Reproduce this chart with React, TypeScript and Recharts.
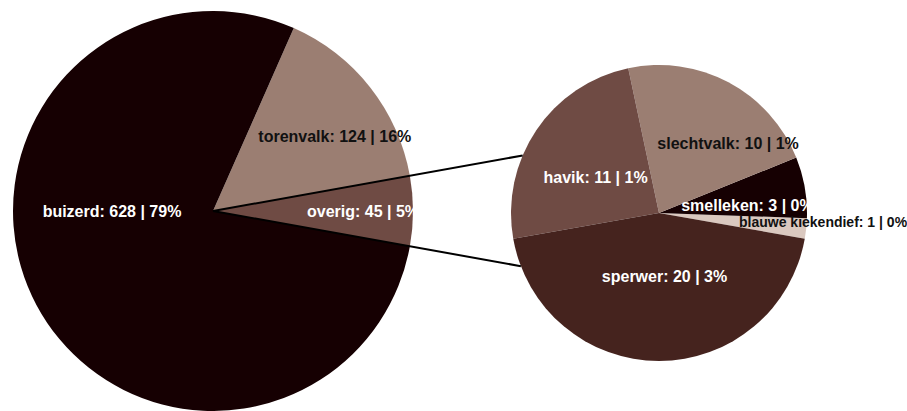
import React from 'react';
import { PieChart, Pie, Cell } from 'recharts';

// left pie: overig is exploded into the right pie
const mainNames = ['overig', 'torenvalk', 'buizerd'];
const mainValues = [45, 124, 628];
const mainPct = ['5%', '16%', '79%'];

// right pie: breakdown of "overig"
const subNames = ['blauwe kiekendief', 'smelleken', 'slechtvalk', 'havik', 'sperwer'];
const subValues = [1, 3, 10, 11, 20];
const subPct = ['0%', '0%', '1%', '1%', '3%'];

const mainColors = ['#6f4b44', '#9b7e72', '#160002'];
const subColors = ['#dac8bf', '#160002', '#9b7e72', '#6f4b44', '#45231e'];
const darkText = '#111111';

const W = 907;
const H = 411;
const LEFT = { cx: 213, cy: 211, r: 200 };
const RIGHT = { cx: 659, cy: 213, r: 148 };

// label placement: [angle in degrees, fraction of radius]
const labelPlace: Record<string, [number, number]> = {
  overig: [0, 0.75],
  torenvalk: [31.6, 0.715],
  buizerd: [180, 0.505],
  'blauwe kiekendief': [-3, 1.11],
  smelleken: [5, 0.6],
  slechtvalk: [45, 0.66],
  havik: [151, 0.49],
  sperwer: [-85, 0.43],
};

const lightSlices = ['torenvalk', 'slechtvalk', 'blauwe kiekendief'];

const mainData = mainNames.map((name, i) => ({ name, value: mainValues[i], pct: mainPct[i] }));
const subData = subNames.map((name, i) => ({ name, value: subValues[i], pct: subPct[i] }));

const mainTotal = mainValues.reduce((a, b) => a + b, 0);
const subTotal = subValues.reduce((a, b) => a + b, 0);
const overigAngle = (360 * mainValues[0]) / mainTotal;
const mainStart = -overigAngle / 2;
const sperwerAngle = (360 * subValues[subValues.length - 1]) / subTotal;
const subStart = -90 + sperwerAngle / 2;

const RAD = Math.PI / 180;

function renderLabel(data: { name: string; value: number; pct: string }[]) {
  return (props: any) => {
    const d = data[props.index];
    const [ang, f] = labelPlace[d.name];
    const x = props.cx + Math.cos(ang * RAD) * props.outerRadius * f;
    const y = props.cy - Math.sin(ang * RAD) * props.outerRadius * f;
    const small = d.name === 'blauwe kiekendief';
    return (
      <text
        x={x}
        y={y}
        textAnchor="middle"
        dominantBaseline="central"
        fill={lightSlices.includes(d.name) ? darkText : '#ffffff'}
        fontSize={small ? 14 : 16}
        fontWeight="bold"
        fontFamily="'Liberation Sans', Arial, sans-serif"
      >
        {`${d.name}: ${d.value} | ${d.pct}`}
      </text>
    );
  };
}

// ray from left centre along the overig edge until it meets the right circle
function rayToCircle(angleDeg: number) {
  const dx = Math.cos(angleDeg * RAD);
  const dy = -Math.sin(angleDeg * RAD);
  const ox = LEFT.cx - RIGHT.cx;
  const oy = LEFT.cy - RIGHT.cy;
  const b = ox * dx + oy * dy;
  const c = ox * ox + oy * oy - RIGHT.r * RIGHT.r;
  const t = -b - Math.sqrt(b * b - c);
  return { x: LEFT.cx + dx * t, y: LEFT.cy + dy * t };
}

const Connectors = () => {
  const top = rayToCircle(mainStart + overigAngle);
  const bottom = rayToCircle(mainStart);
  return (
    <svg
      width={W}
      height={H}
      style={{ position: 'absolute', left: 0, top: 0, pointerEvents: 'none' }}
    >
      <line x1={LEFT.cx} y1={LEFT.cy} x2={top.x} y2={top.y} stroke="#000" strokeWidth={2} />
      <line x1={LEFT.cx} y1={LEFT.cy} x2={bottom.x} y2={bottom.y} stroke="#000" strokeWidth={2} />
    </svg>
  );
};

export default function App() {
  return (
    <div style={{ width: W, height: H, position: 'relative' }}>
      <style>{`body{margin:0;}`}</style>
      <PieChart width={W} height={H} margin={{ top: 0, right: 0, bottom: 0, left: 0 }}>
        <Pie
          data={mainData}
          dataKey="value"
          nameKey="name"
          cx={LEFT.cx}
          cy={LEFT.cy}
          outerRadius={LEFT.r}
          startAngle={mainStart}
          endAngle={mainStart + 360}
          stroke="none"
          label={renderLabel(mainData)}
          labelLine={false}
          isAnimationActive={false}
        >
          {mainData.map((d, i) => (
            <Cell key={d.name} fill={mainColors[i]} />
          ))}
        </Pie>
        <Pie
          data={subData}
          dataKey="value"
          nameKey="name"
          cx={RIGHT.cx}
          cy={RIGHT.cy}
          outerRadius={RIGHT.r}
          startAngle={subStart}
          endAngle={subStart + 360}
          stroke="none"
          label={renderLabel(subData)}
          labelLine={false}
          isAnimationActive={false}
        >
          {subData.map((d, i) => (
            <Cell key={d.name} fill={subColors[i]} />
          ))}
        </Pie>
      </PieChart>
      <Connectors />
    </div>
  );
}
